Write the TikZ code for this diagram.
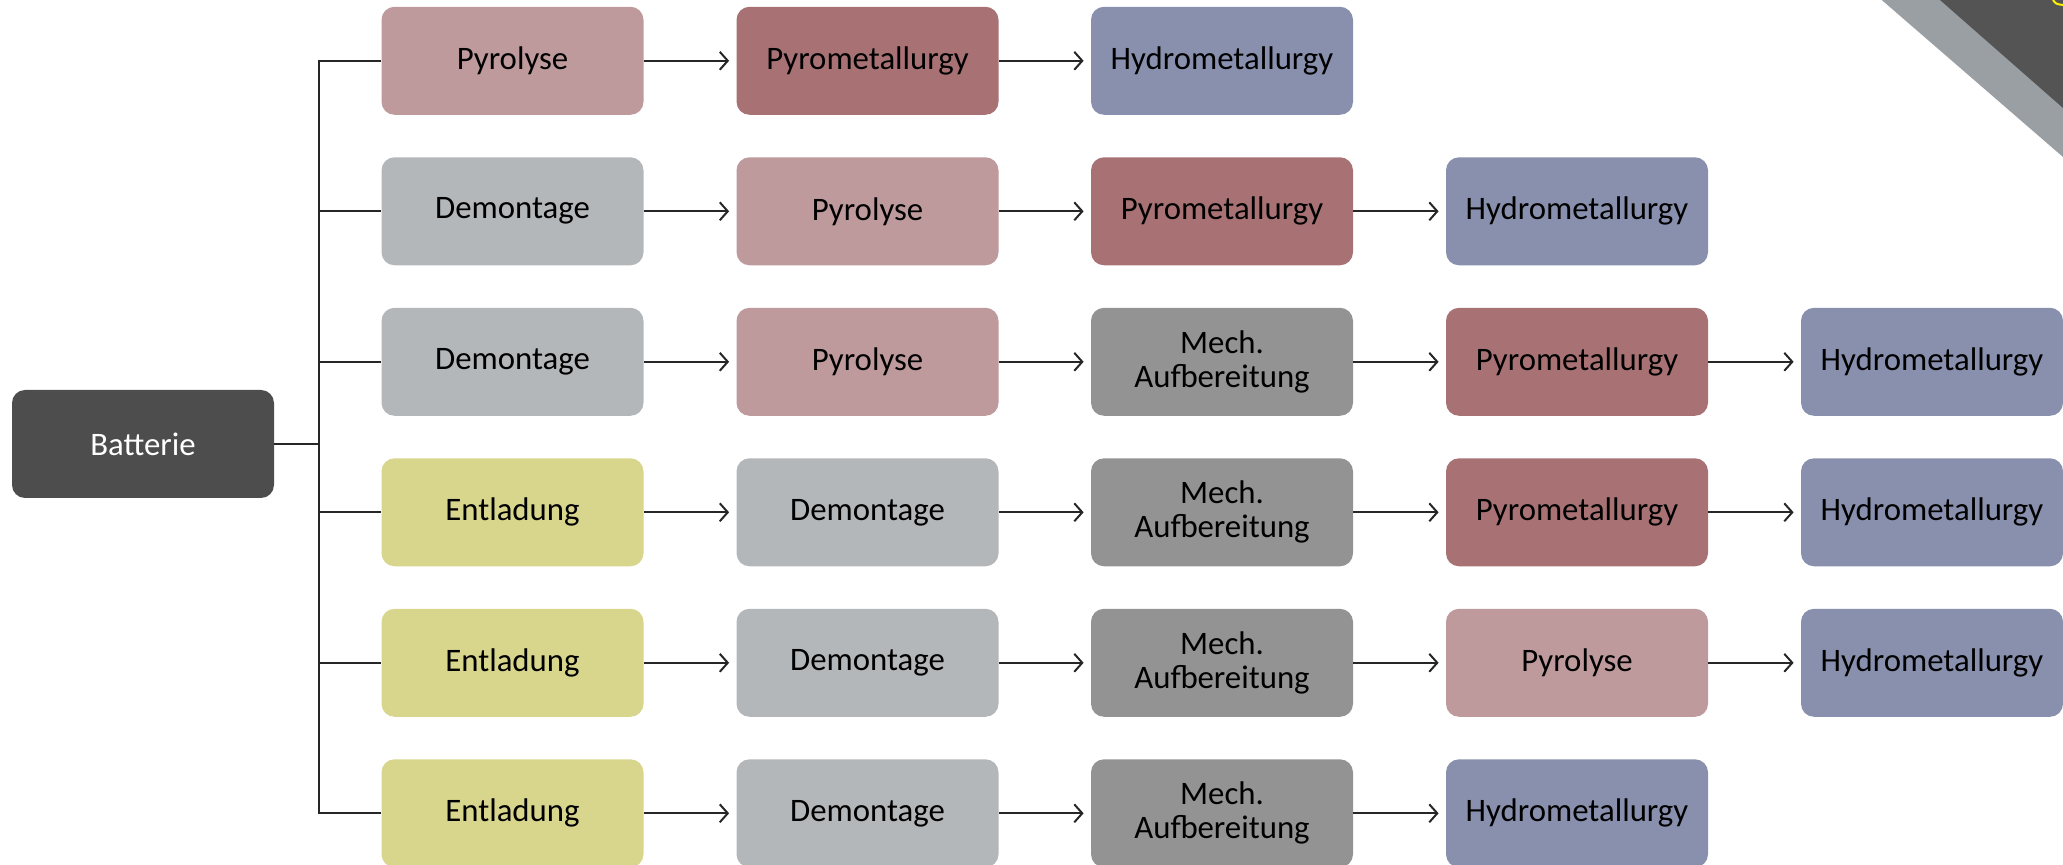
\documentclass[tikz,border=0pt]{standalone}
\usepackage{fontspec}
\setmainfont{Carlito}
\usetikzlibrary{arrows.meta}

\definecolor{pyrolight}{RGB}{190,154,157}
\definecolor{pyrometal}{RGB}{168,114,117}
\definecolor{hydrometal}{RGB}{136,144,174}
\definecolor{demont}{RGB}{180,183,186}
\definecolor{mechauf}{RGB}{147,147,147}
\definecolor{entlad}{RGB}{216,213,140}
\definecolor{battdark}{RGB}{77,77,77}
\definecolor{stripegray}{RGB}{154,159,163}
\definecolor{cornerdark}{RGB}{84,84,84}

\begin{document}
\begin{tikzpicture}[
    x=0.5pt, y=-0.5pt,
    every node/.style={font=\fontsize{16.4}{17}\selectfont},
    box/.style={rectangle, rounded corners=6.5pt, minimum width=131pt,
                minimum height=54pt, inner sep=0pt, align=center, text=black},
    pyr/.style={box, fill=pyrolight},
    pym/.style={box, fill=pyrometal},
    hyd/.style={box, fill=hydrometal},
    dem/.style={box, fill=demont},
    mech/.style={box, fill=mechauf},
    ent/.style={box, fill=entlad},
    every edge/.style={draw, line width=1pt, black!85, shorten >=3.5pt,
                       -{Straight Barb[length=4pt, width=9pt, line width=1pt]}}
]
\useasboundingbox (0,0) rectangle (2063,865);

% corner decoration
\fill[stripegray] (1881.7,0) -- (2063,0) -- (2063,157) -- cycle;
\fill[cornerdark] (1940,0) -- (2063,0) -- (2063,108) -- cycle;
\draw[yellow, line width=1pt] (2053,0) .. controls (2056,4) .. (2063,5);

% root
\node[box, fill=battdark, text=white] (batt) at (143, 444) {Batterie};
\coordinate (jn) at (318.5, 444);

% row 1
\node[pyr] (pyr1) at (512.5, 60.8) {Pyrolyse};
\node[pym] (pym1) at (867.5, 60.8) {Pyrometallurgy};
\node[hyd] (hyd1) at (1222, 60.8) {Hydrometallurgy};

% row 2
\node[dem] (dem2) at (512.5, 211.3) {Demontage};
\node[pyr] (pyr2) at (867.5, 211.3) {Pyrolyse};
\node[pym] (pym2) at (1222, 211.3) {Pyrometallurgy};
\node[hyd] (hyd2) at (1577, 211.3) {Hydrometallurgy};

% row 3
\node[dem] (dem3) at (512.5, 361.8) {Demontage};
\node[pyr] (pyr3) at (867.5, 361.8) {Pyrolyse};
\node[mech] (mech3) at (1222, 361.8) {Mech.\\Aufbereitung};
\node[pym] (pym3) at (1577, 361.8) {Pyrometallurgy};
\node[hyd] (hyd3) at (1932, 361.8) {Hydrometallurgy};

% row 4
\node[ent] (ent4) at (512.5, 512.3) {Entladung};
\node[dem] (dem4) at (867.5, 512.3) {Demontage};
\node[mech] (mech4) at (1222, 512.3) {Mech.\\Aufbereitung};
\node[pym] (pym4) at (1577, 512.3) {Pyrometallurgy};
\node[hyd] (hyd4) at (1932, 512.3) {Hydrometallurgy};

% row 5
\node[ent] (ent5) at (512.5, 662.8) {Entladung};
\node[dem] (dem5) at (867.5, 662.8) {Demontage};
\node[mech] (mech5) at (1222, 662.8) {Mech.\\Aufbereitung};
\node[pyr] (pyr5) at (1577, 662.8) {Pyrolyse};
\node[hyd] (hyd5) at (1932, 662.8) {Hydrometallurgy};

% row 6
\node[ent] (ent6) at (512.5, 813.3) {Entladung};
\node[dem] (dem6) at (867.5, 813.3) {Demontage};
\node[mech] (mech6) at (1222, 813.3) {Mech.\\Aufbereitung};
\node[hyd] (hyd6) at (1577, 813.3) {Hydrometallurgy};

% tree from the root
\draw[line width=1pt, black!85] (batt.east) -- (jn)
      (jn) |- (pyr1.west) (jn) |- (dem2.west) (jn) |- (dem3.west)
      (jn) |- (ent4.west) (jn) |- (ent5.west) (jn) |- (ent6.west);

\draw (pyr1.east) edge (pym1.west)
      (pym1.east) edge (hyd1.west)
      (dem2.east) edge (pyr2.west)
      (pyr2.east) edge (pym2.west)
      (pym2.east) edge (hyd2.west)
      (dem3.east) edge (pyr3.west)
      (pyr3.east) edge (mech3.west)
      (mech3.east) edge (pym3.west)
      (pym3.east) edge (hyd3.west)
      (ent4.east) edge (dem4.west)
      (dem4.east) edge (mech4.west)
      (mech4.east) edge (pym4.west)
      (pym4.east) edge (hyd4.west)
      (ent5.east) edge (dem5.west)
      (dem5.east) edge (mech5.west)
      (mech5.east) edge (pyr5.west)
      (pyr5.east) edge (hyd5.west)
      (ent6.east) edge (dem6.west)
      (dem6.east) edge (mech6.west)
      (mech6.east) edge (hyd6.west);

\end{tikzpicture}
\end{document}
